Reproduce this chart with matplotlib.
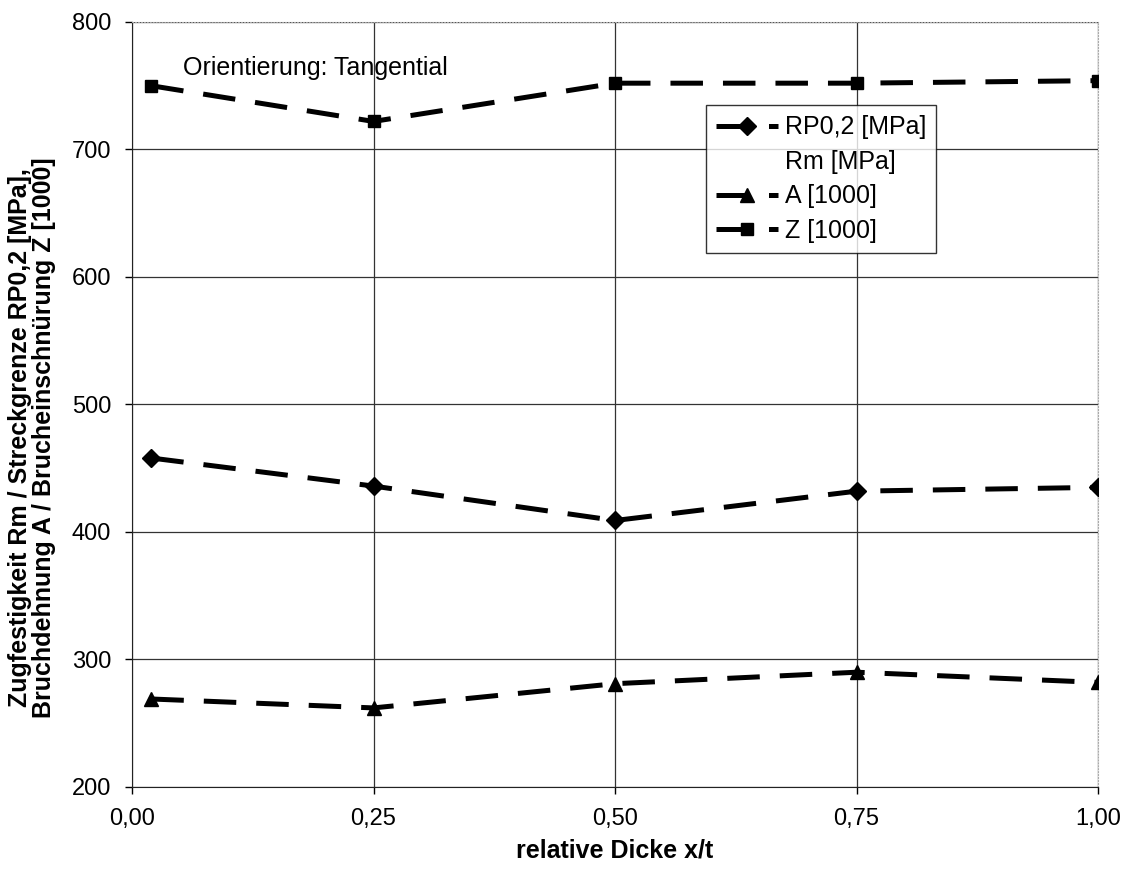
import matplotlib
matplotlib.use("Agg")
import matplotlib.pyplot as plt
from matplotlib.lines import Line2D

plt.rcParams['font.family'] = ['Liberation Sans', 'DejaVu Sans']

# relative Dicke x/t
x = [0.02, 0.25, 0.50, 0.75, 1.00]
rp02 = [458, 436, 409, 432, 435]
a_1000 = [269, 262, 281, 290, 282]
z_1000 = [750, 722, 752, 752, 754]

x_ticks = [0.0, 0.25, 0.5, 0.75, 1.0]
x_ticklabels = ['0,00', '0,25', '0,50', '0,75', '1,00']
y_ticks = [200, 300, 400, 500, 600, 700, 800]

fig = plt.figure(figsize=(11.37, 8.69), dpi=100)
ax = fig.add_axes([0.1161, 0.0944, 0.8496, 0.8803])

dash = (6.5, 4)
lw = 3.6
ax.plot(x, rp02, color='black', lw=lw, dashes=dash, marker='D', ms=9,
        label='RP0,2 [MPa]', zorder=3)
ax.plot(x, a_1000, color='black', lw=lw, dashes=dash, marker='^', ms=10,
        label='A [1000]', zorder=3)
ax.plot(x, z_1000, color='black', lw=lw, dashes=dash, marker='s', ms=8,
        label='Z [1000]', zorder=3)

ax.set_xlim(0, 1)
ax.set_ylim(200, 800)
ax.set_xticks(x_ticks)
ax.set_xticklabels(x_ticklabels)
ax.set_yticks(y_ticks)
ax.tick_params(labelsize=17, length=5, width=1, direction='out', pad=10)
ax.grid(True, color='#333333', lw=0.9)
ax.set_axisbelow(True)

for side in ['top', 'right']:
    ax.spines[side].set_color('#aaaaaa')
    ax.spines[side].set_linestyle(':')
for side in ['left', 'bottom']:
    ax.spines[side].set_color('#222222')

ax.set_xlabel('relative Dicke x/t', fontsize=18, fontweight='bold', labelpad=6)
ax.set_ylabel('Zugfestigkeit Rm / Streckgrenze RP0,2 [MPa],\n'
              'Bruchdehnung A / Brucheinschnürung Z [1000]',
              fontsize=18, fontweight='bold', linespacing=1.0)
ax.yaxis.set_label_coords(-0.079, 0.457)

ax.text(0.053, 0.94, 'Orientierung: Tangential', transform=ax.transAxes,
        fontsize=18, va='center', ha='left')

h, l = ax.get_legend_handles_labels()
rm_handle = Line2D([], [], color='none')
handles = [h[0], rm_handle, h[1], h[2]]
labels = [l[0], 'Rm [MPa]', l[1], l[2]]
leg = ax.legend(handles, labels, loc='upper left', bbox_to_anchor=(0.594, 0.891),
                fontsize=18, frameon=True, fancybox=False, edgecolor='black',
                handlelength=2.5, handletextpad=0.25, borderpad=0.4,
                borderaxespad=0, labelspacing=0.42, numpoints=1)
leg.get_frame().set_linewidth(1.0)

fig.savefig('out.png', dpi=100)
